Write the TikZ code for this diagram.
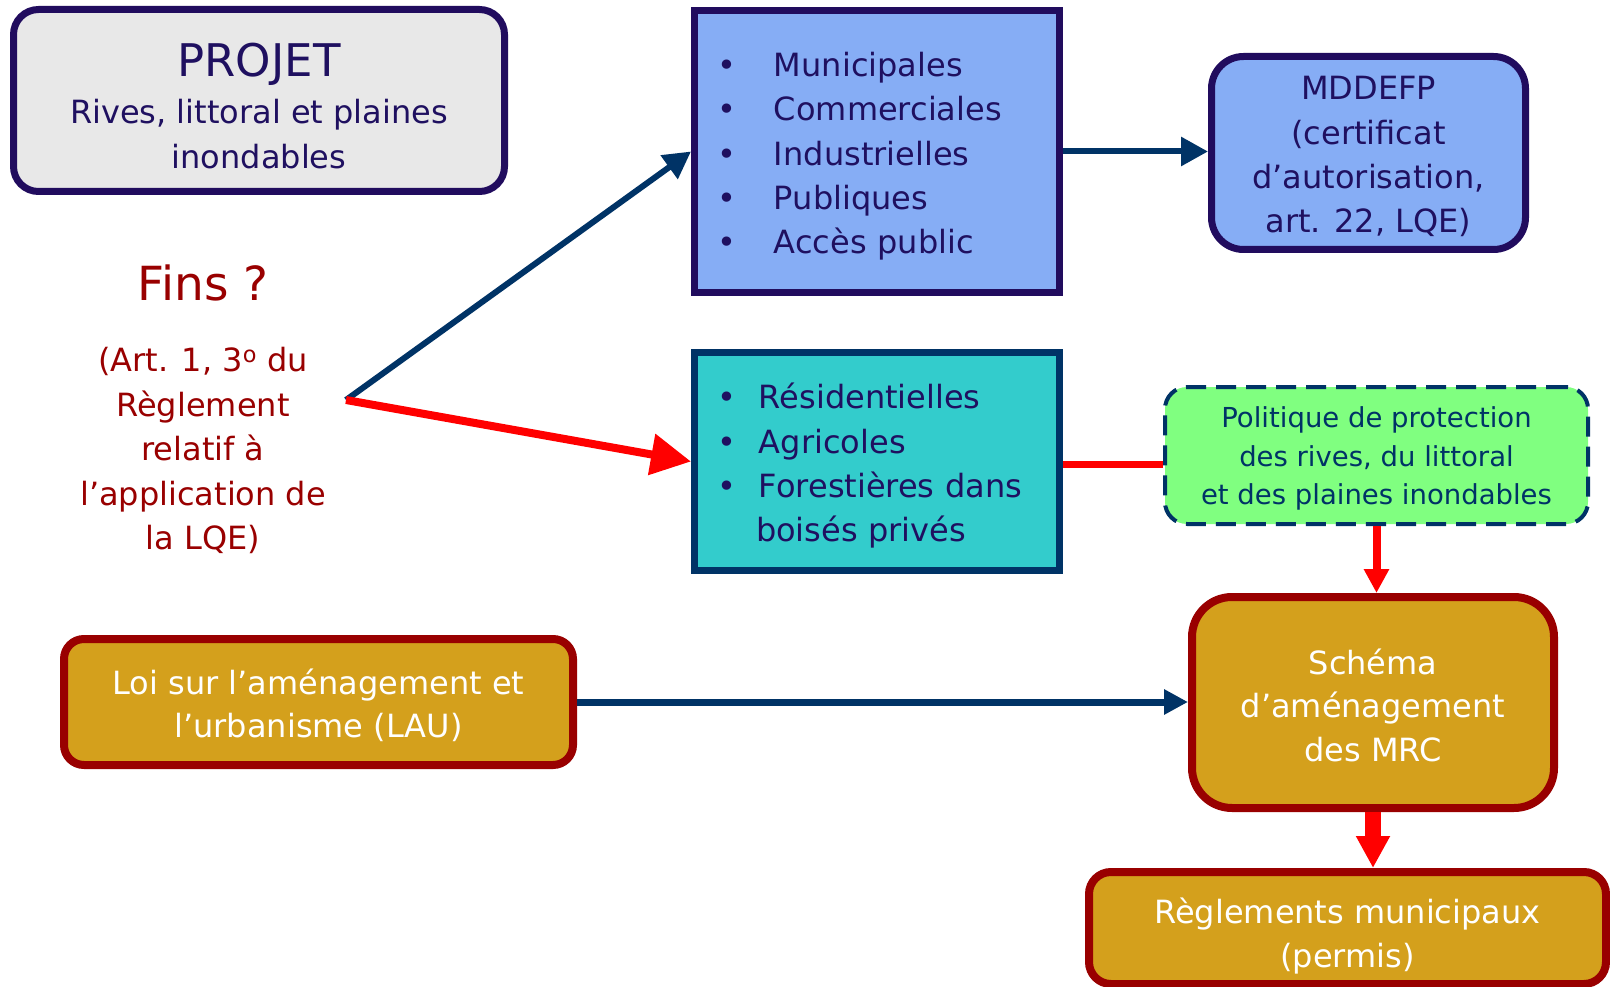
\documentclass[tikz,border=0pt]{standalone}
\usepackage{fontspec}
\setmainfont{DejaVu Sans}
\usetikzlibrary{arrows.meta}
\definecolor{navyline}{HTML}{210C5E}
\definecolor{navytext}{HTML}{1F1060}
\definecolor{deepblue}{HTML}{003366}
\definecolor{skyfill}{HTML}{86ADF5}
\definecolor{greyfill}{HTML}{E8E8E8}
\definecolor{tealfill}{HTML}{33CCCC}
\definecolor{leaffill}{HTML}{80FF80}
\definecolor{goldfill}{HTML}{D4A01C}
\definecolor{darkred}{HTML}{990000}
\newcommand{\bul}[2]{\makebox[#1][l]{•}#2}
\newcommand{\lift}[1]{\rule{0pt}{#1}}
\tikzset{
    projbox/.style = {rectangle, rounded corners=25pt, line width=7pt, draw=navyline, fill=greyfill, text=navytext, align=center, inner sep=0pt, font=\fontsize{32}{45}\selectfont},
    listbox/.style = {rectangle, line width=7pt, text=navytext, align=left, inner ysep=0pt, inner xsep=22.5pt, text width=320pt, font=\fontsize{32}{44.3}\selectfont},
    mddbox/.style = {rectangle, rounded corners=32pt, line width=7pt, draw=navyline, fill=skyfill, text=navytext, align=center, inner sep=0pt, font=\fontsize{32}{44.3}\selectfont},
    politbox/.style = {rectangle, rounded corners=22pt, line width=4pt, draw=deepblue, dash pattern=on 20pt off 10pt, fill=leaffill, text=deepblue, align=center, inner sep=0pt, font=\fontsize{27.5}{38.5}\selectfont},
    goldbox/.style = {rectangle, line width=8pt, draw=darkred, fill=goldfill, text=white, align=center, inner sep=0pt, font=\fontsize{32}{43.5}\selectfont},
    finstext/.style = {text=darkred, align=center, inner sep=0pt},
    edgeblue/.style = {line width=6pt, draw=deepblue, -{Triangle[length=27pt,width=28pt]}},
    edgered/.style = {line width=8pt, draw=red, -{Triangle[length=40pt,width=40pt]}},
    edgeredn/.style = {line width=7pt, draw=red},
    edgeredd/.style = {line width=8pt, draw=red, -{Triangle[length=24pt,width=24pt]}},
    edgereddw/.style = {line width=16pt, draw=red, -{Triangle[length=32pt,width=32pt]}},
    edgebluel/.style = {line width=7pt, draw=deepblue, -{Triangle[length=24pt,width=24pt]}}
}
\begin{document}
\begin{tikzpicture}[x=1pt,y=-1pt]
\fill[white] (0,0) rectangle (1610,987);
\useasboundingbox (0,0) rectangle (1610,987);
% boxes
\node[projbox, minimum width=491pt, minimum height=182pt] at (259, 100.5) (projet)
  {{\fontsize{45}{47}\selectfont\lift{44pt}PROJET}\\[2pt]Rives, littoral et plaines\\inondables};
\node[listbox, draw=navyline, fill=skyfill, minimum height=282pt] at (877, 151.5) (muni)
  {\lift{34pt}\bul{57pt}{Municipales}\\\bul{57pt}{Commerciales}\\\bul{57pt}{Industrielles}\\\bul{57pt}{Publiques}\\\bul{57pt}{Accès public}};
\node[mddbox, minimum width=314pt, minimum height=193pt] at (1368.5, 153) (mdd)
  {\lift{31pt}MDDEFP\\(certificat\\d’autorisation,\\art. 22, LQE)};
\node[finstext, anchor=north, font=\fontsize{47}{50}\selectfont] at (203, 264.5) (fins) {Fins ?};
\node[finstext, anchor=north, font=\fontsize{32}{44.5}\selectfont] at (203, 347) (art)
  {(Art. 1, 3\textsuperscript{o} du\\Règlement\\relatif à\\l’application de\\la LQE)};
\node[listbox, draw=deepblue, fill=tealfill, minimum height=218pt] at (877, 461.5) (resid)
  {\lift{34pt}\bul{42pt}{Résidentielles}\\\bul{42pt}{Agricoles}\\\bul{42pt}{Forestières dans}\\\hspace*{39pt}boisés privés};
\node[politbox, minimum width=423pt, minimum height=137pt] at (1376.5, 455.5) (polit)
  {\lift{27pt}Politique de protection\\des rives, du littoral\\et des plaines inondables};
\node[goldbox, rounded corners=20pt, minimum width=509pt, minimum height=126pt] at (318.5, 702) (loi)
  {\lift{32pt}Loi sur l’aménagement et\\l’urbanisme (LAU)};
\node[goldbox, rounded corners=40pt, minimum width=362pt, minimum height=211pt] at (1373, 702.5) (schema)
  {\lift{31pt}Schéma\\d’aménagement\\des MRC};
\node[goldbox, rounded corners=22pt, minimum width=517pt, minimum height=112pt] at (1347.5, 928) (regl)
  {\lift{42pt}Règlements municipaux\\(permis)};
%
\coordinate (fork) at (346, 400);
\draw[edgeblue] (fork) -- (muni.west);
\draw[edgered] (fork) -- (resid.west);
\draw[edgeblue] (muni.east) -- (muni.east -| mdd.west);
\draw[edgeredn] ([yshift=-2.5pt]resid.east) -- ([yshift=-2.5pt]resid.east -| polit.west);
\draw[edgeredd] (polit.south) -- (polit.south |- schema.north);
\draw[edgebluel] (loi.east) -- (loi.east -| schema.west);
\draw[edgereddw] (schema.south) -- (schema.south |- regl.north);
\end{tikzpicture}
\end{document}
